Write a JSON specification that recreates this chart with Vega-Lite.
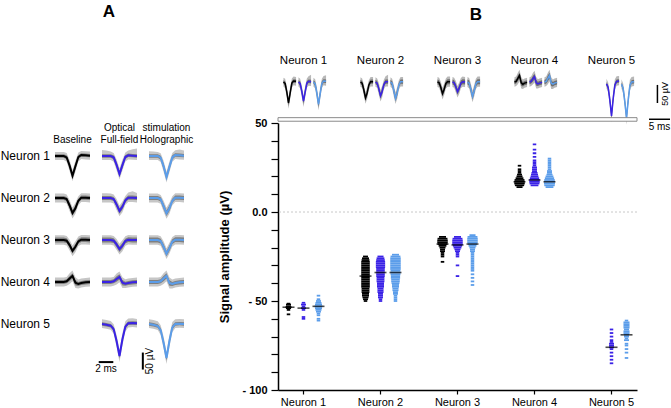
{
"$schema":"https://vega.github.io/schema/vega-lite/v6.json",
"padding":{"left":0,"top":3,"right":0,"bottom":0},
"config":{"font":"Liberation Sans","view":{"stroke":null},"title":{"fontSize":17,"fontWeight":"bold","anchor":"middle","color":"black"}},
"datasets":{
"waves":[
{"n":"Neuron 1","c":"Baseline","t":-2.4,"m":0,"lo":-12,"hi":12,"ilo":-5,"ihi":5},
{"n":"Neuron 1","c":"Baseline","t":-1.8,"m":0,"lo":-12,"hi":12,"ilo":-5,"ihi":5},
{"n":"Neuron 1","c":"Baseline","t":-1.2,"m":0,"lo":-12,"hi":12,"ilo":-5,"ihi":5},
{"n":"Neuron 1","c":"Baseline","t":-0.8,"m":-4,"lo":-17,"hi":9,"ilo":-10,"ihi":2},
{"n":"Neuron 1","c":"Baseline","t":-0.4,"m":-28,"lo":-44,"hi":-12,"ilo":-36,"ihi":-20},
{"n":"Neuron 1","c":"Baseline","t":0,"m":-58,"lo":-74,"hi":-42,"ilo":-66,"ihi":-50},
{"n":"Neuron 1","c":"Baseline","t":0.4,"m":-30,"lo":-46,"hi":-14,"ilo":-38,"ihi":-22},
{"n":"Neuron 1","c":"Baseline","t":0.8,"m":-3,"lo":-16,"hi":10,"ilo":-9,"ihi":3},
{"n":"Neuron 1","c":"Baseline","t":1.2,"m":3,"lo":-9,"hi":15,"ilo":-2,"ihi":8},
{"n":"Neuron 1","c":"Baseline","t":1.8,"m":2,"lo":-10,"hi":14,"ilo":-3,"ihi":7},
{"n":"Neuron 1","c":"Baseline","t":2.4,"m":1,"lo":-11,"hi":13,"ilo":-4,"ihi":6},
{"n":"Neuron 1","c":"Full-field","t":-2.4,"m":0,"lo":-12,"hi":18,"ilo":-5,"ihi":5},
{"n":"Neuron 1","c":"Full-field","t":-1.8,"m":0,"lo":-12,"hi":16,"ilo":-5,"ihi":5},
{"n":"Neuron 1","c":"Full-field","t":-1.2,"m":0,"lo":-12,"hi":13,"ilo":-5,"ihi":5},
{"n":"Neuron 1","c":"Full-field","t":-0.8,"m":-4,"lo":-17,"hi":9,"ilo":-10,"ihi":2},
{"n":"Neuron 1","c":"Full-field","t":-0.4,"m":-26,"lo":-42,"hi":-10,"ilo":-34,"ihi":-18},
{"n":"Neuron 1","c":"Full-field","t":0,"m":-53,"lo":-69,"hi":-37,"ilo":-61,"ihi":-45},
{"n":"Neuron 1","c":"Full-field","t":0.4,"m":-27,"lo":-43,"hi":-11,"ilo":-35,"ihi":-19},
{"n":"Neuron 1","c":"Full-field","t":0.8,"m":-3,"lo":-16,"hi":10,"ilo":-9,"ihi":3},
{"n":"Neuron 1","c":"Full-field","t":1.2,"m":2,"lo":-10,"hi":16,"ilo":-3,"ihi":7},
{"n":"Neuron 1","c":"Full-field","t":1.8,"m":1,"lo":-11,"hi":20,"ilo":-4,"ihi":6},
{"n":"Neuron 1","c":"Full-field","t":2.4,"m":0,"lo":-12,"hi":22,"ilo":-5,"ihi":5},
{"n":"Neuron 1","c":"Holographic","t":-2.4,"m":0,"lo":-12,"hi":14,"ilo":-5,"ihi":5},
{"n":"Neuron 1","c":"Holographic","t":-1.8,"m":0,"lo":-12,"hi":13,"ilo":-5,"ihi":5},
{"n":"Neuron 1","c":"Holographic","t":-1.2,"m":0,"lo":-12,"hi":12,"ilo":-5,"ihi":5},
{"n":"Neuron 1","c":"Holographic","t":-0.8,"m":-5,"lo":-18,"hi":8,"ilo":-11,"ihi":1},
{"n":"Neuron 1","c":"Holographic","t":-0.4,"m":-30,"lo":-46,"hi":-14,"ilo":-38,"ihi":-22},
{"n":"Neuron 1","c":"Holographic","t":0,"m":-62,"lo":-78,"hi":-46,"ilo":-70,"ihi":-54},
{"n":"Neuron 1","c":"Holographic","t":0.4,"m":-32,"lo":-48,"hi":-16,"ilo":-40,"ihi":-24},
{"n":"Neuron 1","c":"Holographic","t":0.8,"m":-4,"lo":-17,"hi":9,"ilo":-10,"ihi":2},
{"n":"Neuron 1","c":"Holographic","t":1.2,"m":3,"lo":-9,"hi":17,"ilo":-2,"ihi":8},
{"n":"Neuron 1","c":"Holographic","t":1.8,"m":2,"lo":-10,"hi":19,"ilo":-3,"ihi":7},
{"n":"Neuron 1","c":"Holographic","t":2.4,"m":1,"lo":-11,"hi":16,"ilo":-4,"ihi":6},
{"n":"Neuron 2","c":"Baseline","t":-2.4,"m":0,"lo":-13,"hi":13,"ilo":-6,"ihi":6},
{"n":"Neuron 2","c":"Baseline","t":-1.8,"m":0,"lo":-13,"hi":13,"ilo":-6,"ihi":6},
{"n":"Neuron 2","c":"Baseline","t":-1.2,"m":0,"lo":-13,"hi":13,"ilo":-6,"ihi":6},
{"n":"Neuron 2","c":"Baseline","t":-0.8,"m":-3,"lo":-16,"hi":10,"ilo":-9,"ihi":3},
{"n":"Neuron 2","c":"Baseline","t":-0.4,"m":-22,"lo":-38,"hi":-6,"ilo":-30,"ihi":-14},
{"n":"Neuron 2","c":"Baseline","t":0,"m":-44,"lo":-60,"hi":-28,"ilo":-52,"ihi":-36},
{"n":"Neuron 2","c":"Baseline","t":0.4,"m":-30,"lo":-46,"hi":-14,"ilo":-38,"ihi":-22},
{"n":"Neuron 2","c":"Baseline","t":0.8,"m":-8,"lo":-21,"hi":5,"ilo":-14,"ihi":-2},
{"n":"Neuron 2","c":"Baseline","t":1.2,"m":1,"lo":-12,"hi":14,"ilo":-5,"ihi":7},
{"n":"Neuron 2","c":"Baseline","t":1.8,"m":1,"lo":-12,"hi":14,"ilo":-5,"ihi":7},
{"n":"Neuron 2","c":"Baseline","t":2.4,"m":0,"lo":-13,"hi":13,"ilo":-6,"ihi":6},
{"n":"Neuron 2","c":"Full-field","t":-2.4,"m":0,"lo":-13,"hi":14,"ilo":-6,"ihi":6},
{"n":"Neuron 2","c":"Full-field","t":-1.8,"m":0,"lo":-13,"hi":14,"ilo":-6,"ihi":6},
{"n":"Neuron 2","c":"Full-field","t":-1.2,"m":0,"lo":-13,"hi":13,"ilo":-6,"ihi":6},
{"n":"Neuron 2","c":"Full-field","t":-0.8,"m":-3,"lo":-16,"hi":10,"ilo":-9,"ihi":3},
{"n":"Neuron 2","c":"Full-field","t":-0.4,"m":-19,"lo":-35,"hi":-3,"ilo":-27,"ihi":-11},
{"n":"Neuron 2","c":"Full-field","t":0,"m":-38,"lo":-54,"hi":-22,"ilo":-46,"ihi":-30},
{"n":"Neuron 2","c":"Full-field","t":0.4,"m":-26,"lo":-42,"hi":-10,"ilo":-34,"ihi":-18},
{"n":"Neuron 2","c":"Full-field","t":0.8,"m":-7,"lo":-20,"hi":6,"ilo":-13,"ihi":-1},
{"n":"Neuron 2","c":"Full-field","t":1.2,"m":1,"lo":-12,"hi":16,"ilo":-5,"ihi":7},
{"n":"Neuron 2","c":"Full-field","t":1.8,"m":1,"lo":-12,"hi":20,"ilo":-5,"ihi":7},
{"n":"Neuron 2","c":"Full-field","t":2.4,"m":0,"lo":-13,"hi":15,"ilo":-6,"ihi":6},
{"n":"Neuron 2","c":"Holographic","t":-2.4,"m":0,"lo":-13,"hi":13,"ilo":-6,"ihi":6},
{"n":"Neuron 2","c":"Holographic","t":-1.8,"m":0,"lo":-13,"hi":13,"ilo":-6,"ihi":6},
{"n":"Neuron 2","c":"Holographic","t":-1.2,"m":0,"lo":-13,"hi":13,"ilo":-6,"ihi":6},
{"n":"Neuron 2","c":"Holographic","t":-0.8,"m":-4,"lo":-17,"hi":9,"ilo":-10,"ihi":2},
{"n":"Neuron 2","c":"Holographic","t":-0.4,"m":-24,"lo":-40,"hi":-8,"ilo":-32,"ihi":-16},
{"n":"Neuron 2","c":"Holographic","t":0,"m":-45,"lo":-61,"hi":-29,"ilo":-53,"ihi":-37},
{"n":"Neuron 2","c":"Holographic","t":0.4,"m":-30,"lo":-46,"hi":-14,"ilo":-38,"ihi":-22},
{"n":"Neuron 2","c":"Holographic","t":0.8,"m":-8,"lo":-21,"hi":5,"ilo":-14,"ihi":-2},
{"n":"Neuron 2","c":"Holographic","t":1.2,"m":1,"lo":-12,"hi":14,"ilo":-5,"ihi":7},
{"n":"Neuron 2","c":"Holographic","t":1.8,"m":1,"lo":-12,"hi":14,"ilo":-5,"ihi":7},
{"n":"Neuron 2","c":"Holographic","t":2.4,"m":0,"lo":-13,"hi":13,"ilo":-6,"ihi":6},
{"n":"Neuron 3","c":"Baseline","t":-2.4,"m":0,"lo":-14,"hi":14,"ilo":-7,"ihi":7},
{"n":"Neuron 3","c":"Baseline","t":-1.8,"m":0,"lo":-14,"hi":14,"ilo":-7,"ihi":7},
{"n":"Neuron 3","c":"Baseline","t":-1.2,"m":0,"lo":-14,"hi":14,"ilo":-7,"ihi":7},
{"n":"Neuron 3","c":"Baseline","t":-0.8,"m":-2,"lo":-16,"hi":12,"ilo":-9,"ihi":5},
{"n":"Neuron 3","c":"Baseline","t":-0.4,"m":-15,"lo":-31,"hi":1,"ilo":-23,"ihi":-7},
{"n":"Neuron 3","c":"Baseline","t":0,"m":-32,"lo":-48,"hi":-16,"ilo":-40,"ihi":-24},
{"n":"Neuron 3","c":"Baseline","t":0.4,"m":-20,"lo":-36,"hi":-4,"ilo":-28,"ihi":-12},
{"n":"Neuron 3","c":"Baseline","t":0.8,"m":-4,"lo":-18,"hi":10,"ilo":-11,"ihi":3},
{"n":"Neuron 3","c":"Baseline","t":1.2,"m":1,"lo":-13,"hi":15,"ilo":-6,"ihi":8},
{"n":"Neuron 3","c":"Baseline","t":1.8,"m":1,"lo":-13,"hi":15,"ilo":-6,"ihi":8},
{"n":"Neuron 3","c":"Baseline","t":2.4,"m":0,"lo":-14,"hi":14,"ilo":-7,"ihi":7},
{"n":"Neuron 3","c":"Full-field","t":-2.4,"m":0,"lo":-14,"hi":14,"ilo":-7,"ihi":7},
{"n":"Neuron 3","c":"Full-field","t":-1.8,"m":0,"lo":-14,"hi":14,"ilo":-7,"ihi":7},
{"n":"Neuron 3","c":"Full-field","t":-1.2,"m":0,"lo":-14,"hi":14,"ilo":-7,"ihi":7},
{"n":"Neuron 3","c":"Full-field","t":-0.8,"m":-2,"lo":-16,"hi":12,"ilo":-9,"ihi":5},
{"n":"Neuron 3","c":"Full-field","t":-0.4,"m":-13,"lo":-29,"hi":3,"ilo":-21,"ihi":-5},
{"n":"Neuron 3","c":"Full-field","t":0,"m":-27,"lo":-43,"hi":-11,"ilo":-35,"ihi":-19},
{"n":"Neuron 3","c":"Full-field","t":0.4,"m":-17,"lo":-33,"hi":-1,"ilo":-25,"ihi":-9},
{"n":"Neuron 3","c":"Full-field","t":0.8,"m":-3,"lo":-17,"hi":11,"ilo":-10,"ihi":4},
{"n":"Neuron 3","c":"Full-field","t":1.2,"m":1,"lo":-13,"hi":15,"ilo":-6,"ihi":8},
{"n":"Neuron 3","c":"Full-field","t":1.8,"m":0,"lo":-14,"hi":14,"ilo":-7,"ihi":7},
{"n":"Neuron 3","c":"Full-field","t":2.4,"m":0,"lo":-14,"hi":14,"ilo":-7,"ihi":7},
{"n":"Neuron 3","c":"Holographic","t":-2.4,"m":0,"lo":-14,"hi":14,"ilo":-7,"ihi":7},
{"n":"Neuron 3","c":"Holographic","t":-1.8,"m":0,"lo":-14,"hi":14,"ilo":-7,"ihi":7},
{"n":"Neuron 3","c":"Holographic","t":-1.2,"m":0,"lo":-14,"hi":14,"ilo":-7,"ihi":7},
{"n":"Neuron 3","c":"Holographic","t":-0.8,"m":-3,"lo":-17,"hi":11,"ilo":-10,"ihi":4},
{"n":"Neuron 3","c":"Holographic","t":-0.4,"m":-20,"lo":-36,"hi":-4,"ilo":-28,"ihi":-12},
{"n":"Neuron 3","c":"Holographic","t":0,"m":-40,"lo":-56,"hi":-24,"ilo":-48,"ihi":-32},
{"n":"Neuron 3","c":"Holographic","t":0.4,"m":-24,"lo":-40,"hi":-8,"ilo":-32,"ihi":-16},
{"n":"Neuron 3","c":"Holographic","t":0.8,"m":-5,"lo":-19,"hi":9,"ilo":-12,"ihi":2},
{"n":"Neuron 3","c":"Holographic","t":1.2,"m":1,"lo":-13,"hi":15,"ilo":-6,"ihi":8},
{"n":"Neuron 3","c":"Holographic","t":1.8,"m":1,"lo":-13,"hi":15,"ilo":-6,"ihi":8},
{"n":"Neuron 3","c":"Holographic","t":2.4,"m":0,"lo":-14,"hi":14,"ilo":-7,"ihi":7},
{"n":"Neuron 4","c":"Baseline","t":-2.4,"m":0,"lo":-13,"hi":13,"ilo":-6,"ihi":6},
{"n":"Neuron 4","c":"Baseline","t":-1.8,"m":0,"lo":-13,"hi":13,"ilo":-6,"ihi":6},
{"n":"Neuron 4","c":"Baseline","t":-1.2,"m":0,"lo":-13,"hi":13,"ilo":-6,"ihi":6},
{"n":"Neuron 4","c":"Baseline","t":-0.8,"m":2,"lo":-11,"hi":15,"ilo":-4,"ihi":8},
{"n":"Neuron 4","c":"Baseline","t":-0.4,"m":10,"lo":-6,"hi":26,"ilo":2,"ihi":18},
{"n":"Neuron 4","c":"Baseline","t":0,"m":18,"lo":2,"hi":34,"ilo":10,"ihi":26},
{"n":"Neuron 4","c":"Baseline","t":0.4,"m":-2,"lo":-18,"hi":14,"ilo":-10,"ihi":6},
{"n":"Neuron 4","c":"Baseline","t":0.8,"m":-6,"lo":-19,"hi":7,"ilo":-12,"ihi":0},
{"n":"Neuron 4","c":"Baseline","t":1.2,"m":-3,"lo":-16,"hi":10,"ilo":-9,"ihi":3},
{"n":"Neuron 4","c":"Baseline","t":1.8,"m":-1,"lo":-14,"hi":12,"ilo":-7,"ihi":5},
{"n":"Neuron 4","c":"Baseline","t":2.4,"m":0,"lo":-13,"hi":13,"ilo":-6,"ihi":6},
{"n":"Neuron 4","c":"Full-field","t":-2.4,"m":0,"lo":-13,"hi":13,"ilo":-6,"ihi":6},
{"n":"Neuron 4","c":"Full-field","t":-1.8,"m":0,"lo":-13,"hi":13,"ilo":-6,"ihi":6},
{"n":"Neuron 4","c":"Full-field","t":-1.2,"m":0,"lo":-13,"hi":13,"ilo":-6,"ihi":6},
{"n":"Neuron 4","c":"Full-field","t":-0.8,"m":2,"lo":-11,"hi":15,"ilo":-4,"ihi":8},
{"n":"Neuron 4","c":"Full-field","t":-0.4,"m":9,"lo":-7,"hi":25,"ilo":1,"ihi":17},
{"n":"Neuron 4","c":"Full-field","t":0,"m":15,"lo":-1,"hi":31,"ilo":7,"ihi":23},
{"n":"Neuron 4","c":"Full-field","t":0.4,"m":-2,"lo":-18,"hi":14,"ilo":-10,"ihi":6},
{"n":"Neuron 4","c":"Full-field","t":0.8,"m":-5,"lo":-18,"hi":8,"ilo":-11,"ihi":1},
{"n":"Neuron 4","c":"Full-field","t":1.2,"m":-3,"lo":-16,"hi":10,"ilo":-9,"ihi":3},
{"n":"Neuron 4","c":"Full-field","t":1.8,"m":-1,"lo":-14,"hi":12,"ilo":-7,"ihi":5},
{"n":"Neuron 4","c":"Full-field","t":2.4,"m":0,"lo":-13,"hi":13,"ilo":-6,"ihi":6},
{"n":"Neuron 4","c":"Holographic","t":-2.4,"m":0,"lo":-13,"hi":13,"ilo":-6,"ihi":6},
{"n":"Neuron 4","c":"Holographic","t":-1.8,"m":0,"lo":-13,"hi":13,"ilo":-6,"ihi":6},
{"n":"Neuron 4","c":"Holographic","t":-1.2,"m":0,"lo":-13,"hi":13,"ilo":-6,"ihi":6},
{"n":"Neuron 4","c":"Holographic","t":-0.8,"m":2,"lo":-11,"hi":15,"ilo":-4,"ihi":8},
{"n":"Neuron 4","c":"Holographic","t":-0.4,"m":10,"lo":-6,"hi":26,"ilo":2,"ihi":18},
{"n":"Neuron 4","c":"Holographic","t":0,"m":18,"lo":2,"hi":34,"ilo":10,"ihi":26},
{"n":"Neuron 4","c":"Holographic","t":0.4,"m":-3,"lo":-19,"hi":13,"ilo":-11,"ihi":5},
{"n":"Neuron 4","c":"Holographic","t":0.8,"m":-6,"lo":-19,"hi":7,"ilo":-12,"ihi":0},
{"n":"Neuron 4","c":"Holographic","t":1.2,"m":-3,"lo":-16,"hi":10,"ilo":-9,"ihi":3},
{"n":"Neuron 4","c":"Holographic","t":1.8,"m":-1,"lo":-14,"hi":12,"ilo":-7,"ihi":5},
{"n":"Neuron 4","c":"Holographic","t":2.4,"m":0,"lo":-13,"hi":13,"ilo":-6,"ihi":6},
{"n":"Neuron 5","c":"Full-field","t":-2.4,"m":0,"lo":-12,"hi":14,"ilo":-5,"ihi":5},
{"n":"Neuron 5","c":"Full-field","t":-1.8,"m":-2,"lo":-14,"hi":12,"ilo":-7,"ihi":3},
{"n":"Neuron 5","c":"Full-field","t":-1.2,"m":-5,"lo":-17,"hi":9,"ilo":-10,"ihi":0},
{"n":"Neuron 5","c":"Full-field","t":-0.8,"m":-15,"lo":-29,"hi":-1,"ilo":-21,"ihi":-9},
{"n":"Neuron 5","c":"Full-field","t":-0.4,"m":-50,"lo":-68,"hi":-32,"ilo":-58,"ihi":-42},
{"n":"Neuron 5","c":"Full-field","t":0,"m":-94,"lo":-112,"hi":-76,"ilo":-102,"ihi":-86},
{"n":"Neuron 5","c":"Full-field","t":0.4,"m":-45,"lo":-63,"hi":-27,"ilo":-53,"ihi":-37},
{"n":"Neuron 5","c":"Full-field","t":0.8,"m":-8,"lo":-22,"hi":8,"ilo":-14,"ihi":-2},
{"n":"Neuron 5","c":"Full-field","t":1.2,"m":2,"lo":-10,"hi":16,"ilo":-3,"ihi":7},
{"n":"Neuron 5","c":"Full-field","t":1.8,"m":3,"lo":-9,"hi":17,"ilo":-2,"ihi":8},
{"n":"Neuron 5","c":"Full-field","t":2.4,"m":2,"lo":-10,"hi":15,"ilo":-3,"ihi":7},
{"n":"Neuron 5","c":"Holographic","t":-2.4,"m":0,"lo":-12,"hi":14,"ilo":-5,"ihi":5},
{"n":"Neuron 5","c":"Holographic","t":-1.8,"m":-2,"lo":-14,"hi":12,"ilo":-7,"ihi":3},
{"n":"Neuron 5","c":"Holographic","t":-1.2,"m":-6,"lo":-18,"hi":8,"ilo":-11,"ihi":-1},
{"n":"Neuron 5","c":"Holographic","t":-0.8,"m":-18,"lo":-32,"hi":-4,"ilo":-24,"ihi":-12},
{"n":"Neuron 5","c":"Holographic","t":-0.4,"m":-55,"lo":-73,"hi":-37,"ilo":-63,"ihi":-47},
{"n":"Neuron 5","c":"Holographic","t":0,"m":-100,"lo":-118,"hi":-82,"ilo":-108,"ihi":-92},
{"n":"Neuron 5","c":"Holographic","t":0.4,"m":-50,"lo":-68,"hi":-32,"ilo":-58,"ihi":-42},
{"n":"Neuron 5","c":"Holographic","t":0.8,"m":-10,"lo":-24,"hi":6,"ilo":-16,"ihi":-4},
{"n":"Neuron 5","c":"Holographic","t":1.2,"m":0,"lo":-12,"hi":14,"ilo":-5,"ihi":5},
{"n":"Neuron 5","c":"Holographic","t":1.8,"m":1,"lo":-11,"hi":15,"ilo":-4,"ihi":6},
{"n":"Neuron 5","c":"Holographic","t":2.4,"m":0,"lo":-12,"hi":14,"ilo":-5,"ihi":5},
{"n":"Neuron 5","c":"Full-field","bar":"h","t":-2.85,"v":-112},
{"n":"Neuron 5","c":"Full-field","bar":"h","t":-0.85,"v":-112},
{"n":"Neuron 5","c":"Full-field","bar":"v","t":3.2,"v":-84},
{"n":"Neuron 5","c":"Full-field","bar":"v","t":3.2,"v":-134},
{"n":"Neuron 5","c":"Full-field","txt":"2 ms","t":-1.85,"v":-117},
{"n":"Neuron 5","c":"Full-field","txt":"50 µV","t":4.2,"v":-109}
],
"swarm":[
{"n":"Neuron 1","c":"Baseline","a":-51.5,"k":1},{"n":"Neuron 1","c":"Baseline","a":-52,"k":2},{"n":"Neuron 1","c":"Baseline","a":-53,"k":2},{"n":"Neuron 1","c":"Baseline","a":-53.5,"k":3},{"n":"Neuron 1","c":"Baseline","a":-54,"k":2},{"n":"Neuron 1","c":"Baseline","a":-55,"k":1},{"n":"Neuron 1","c":"Baseline","a":-57.5,"k":1},
{"n":"Neuron 1","c":"Full-field","a":-51,"k":1},{"n":"Neuron 1","c":"Full-field","a":-52,"k":2},{"n":"Neuron 1","c":"Full-field","a":-53,"k":1},{"n":"Neuron 1","c":"Full-field","a":-54,"k":2},{"n":"Neuron 1","c":"Full-field","a":-55,"k":1},{"n":"Neuron 1","c":"Full-field","a":-59,"k":1},{"n":"Neuron 1","c":"Full-field","a":-60,"k":1},
{"n":"Neuron 1","c":"Holographic","a":-47,"k":1},{"n":"Neuron 1","c":"Holographic","a":-49,"k":1},{"n":"Neuron 1","c":"Holographic","a":-50,"k":2},{"n":"Neuron 1","c":"Holographic","a":-51,"k":3},{"n":"Neuron 1","c":"Holographic","a":-52,"k":4},{"n":"Neuron 1","c":"Holographic","a":-53,"k":5},{"n":"Neuron 1","c":"Holographic","a":-54,"k":4},{"n":"Neuron 1","c":"Holographic","a":-55,"k":3},{"n":"Neuron 1","c":"Holographic","a":-56,"k":2},{"n":"Neuron 1","c":"Holographic","a":-57,"k":1},{"n":"Neuron 1","c":"Holographic","a":-58,"k":1},{"n":"Neuron 1","c":"Holographic","a":-60,"k":1},{"n":"Neuron 1","c":"Holographic","a":-61,"k":1},
{"n":"Neuron 2","c":"Baseline","a":-25,"k":2},{"n":"Neuron 2","c":"Baseline","a":-26,"k":4},{"n":"Neuron 2","c":"Baseline","a":-27,"k":5},{"n":"Neuron 2","c":"Baseline","a":-28,"k":6},{"n":"Neuron 2","c":"Baseline","a":-29,"k":6},{"n":"Neuron 2","c":"Baseline","a":-30,"k":6},{"n":"Neuron 2","c":"Baseline","a":-31,"k":6},{"n":"Neuron 2","c":"Baseline","a":-32,"k":6},{"n":"Neuron 2","c":"Baseline","a":-33,"k":6},{"n":"Neuron 2","c":"Baseline","a":-34,"k":6},{"n":"Neuron 2","c":"Baseline","a":-35,"k":6},{"n":"Neuron 2","c":"Baseline","a":-36,"k":6},{"n":"Neuron 2","c":"Baseline","a":-37,"k":6},{"n":"Neuron 2","c":"Baseline","a":-38,"k":6},{"n":"Neuron 2","c":"Baseline","a":-39,"k":6},{"n":"Neuron 2","c":"Baseline","a":-40,"k":6},{"n":"Neuron 2","c":"Baseline","a":-41,"k":6},{"n":"Neuron 2","c":"Baseline","a":-42,"k":6},{"n":"Neuron 2","c":"Baseline","a":-43,"k":5},{"n":"Neuron 2","c":"Baseline","a":-44,"k":5},{"n":"Neuron 2","c":"Baseline","a":-45,"k":5},{"n":"Neuron 2","c":"Baseline","a":-46,"k":4},{"n":"Neuron 2","c":"Baseline","a":-47,"k":4},{"n":"Neuron 2","c":"Baseline","a":-48,"k":3},{"n":"Neuron 2","c":"Baseline","a":-49,"k":2},{"n":"Neuron 2","c":"Baseline","a":-50,"k":1},
{"n":"Neuron 2","c":"Full-field","a":-25,"k":3},{"n":"Neuron 2","c":"Full-field","a":-26,"k":5},{"n":"Neuron 2","c":"Full-field","a":-27,"k":6},{"n":"Neuron 2","c":"Full-field","a":-28,"k":7},{"n":"Neuron 2","c":"Full-field","a":-29,"k":7},{"n":"Neuron 2","c":"Full-field","a":-30,"k":7},{"n":"Neuron 2","c":"Full-field","a":-31,"k":7},{"n":"Neuron 2","c":"Full-field","a":-32,"k":6},{"n":"Neuron 2","c":"Full-field","a":-33,"k":6},{"n":"Neuron 2","c":"Full-field","a":-34,"k":6},{"n":"Neuron 2","c":"Full-field","a":-35,"k":6},{"n":"Neuron 2","c":"Full-field","a":-36,"k":6},{"n":"Neuron 2","c":"Full-field","a":-37,"k":5},{"n":"Neuron 2","c":"Full-field","a":-38,"k":5},{"n":"Neuron 2","c":"Full-field","a":-39,"k":5},{"n":"Neuron 2","c":"Full-field","a":-40,"k":4},{"n":"Neuron 2","c":"Full-field","a":-41,"k":4},{"n":"Neuron 2","c":"Full-field","a":-42,"k":4},{"n":"Neuron 2","c":"Full-field","a":-43,"k":3},{"n":"Neuron 2","c":"Full-field","a":-44,"k":3},{"n":"Neuron 2","c":"Full-field","a":-45,"k":3},{"n":"Neuron 2","c":"Full-field","a":-46,"k":2},{"n":"Neuron 2","c":"Full-field","a":-47,"k":2},{"n":"Neuron 2","c":"Full-field","a":-48,"k":2},{"n":"Neuron 2","c":"Full-field","a":-49,"k":1},{"n":"Neuron 2","c":"Full-field","a":-50,"k":1},
{"n":"Neuron 2","c":"Holographic","a":-24,"k":4},{"n":"Neuron 2","c":"Holographic","a":-25,"k":8},{"n":"Neuron 2","c":"Holographic","a":-26,"k":9},{"n":"Neuron 2","c":"Holographic","a":-27,"k":9},{"n":"Neuron 2","c":"Holographic","a":-28,"k":9},{"n":"Neuron 2","c":"Holographic","a":-29,"k":9},{"n":"Neuron 2","c":"Holographic","a":-30,"k":9},{"n":"Neuron 2","c":"Holographic","a":-31,"k":9},{"n":"Neuron 2","c":"Holographic","a":-32,"k":9},{"n":"Neuron 2","c":"Holographic","a":-33,"k":8},{"n":"Neuron 2","c":"Holographic","a":-34,"k":8},{"n":"Neuron 2","c":"Holographic","a":-35,"k":8},{"n":"Neuron 2","c":"Holographic","a":-36,"k":7},{"n":"Neuron 2","c":"Holographic","a":-37,"k":7},{"n":"Neuron 2","c":"Holographic","a":-38,"k":6},{"n":"Neuron 2","c":"Holographic","a":-39,"k":6},{"n":"Neuron 2","c":"Holographic","a":-40,"k":5},{"n":"Neuron 2","c":"Holographic","a":-41,"k":4},{"n":"Neuron 2","c":"Holographic","a":-42,"k":4},{"n":"Neuron 2","c":"Holographic","a":-43,"k":3},{"n":"Neuron 2","c":"Holographic","a":-44,"k":3},{"n":"Neuron 2","c":"Holographic","a":-45,"k":2},{"n":"Neuron 2","c":"Holographic","a":-46,"k":2},{"n":"Neuron 2","c":"Holographic","a":-47,"k":1},{"n":"Neuron 2","c":"Holographic","a":-48,"k":1},{"n":"Neuron 2","c":"Holographic","a":-49,"k":1},{"n":"Neuron 2","c":"Holographic","a":-50,"k":1},
{"n":"Neuron 3","c":"Baseline","a":-14,"k":4},{"n":"Neuron 3","c":"Baseline","a":-15,"k":8},{"n":"Neuron 3","c":"Baseline","a":-16,"k":9},{"n":"Neuron 3","c":"Baseline","a":-17,"k":9},{"n":"Neuron 3","c":"Baseline","a":-18,"k":8},{"n":"Neuron 3","c":"Baseline","a":-19,"k":5},{"n":"Neuron 3","c":"Baseline","a":-20,"k":3},{"n":"Neuron 3","c":"Baseline","a":-21,"k":2},{"n":"Neuron 3","c":"Baseline","a":-22,"k":2},{"n":"Neuron 3","c":"Baseline","a":-23,"k":1},{"n":"Neuron 3","c":"Baseline","a":-24,"k":1},{"n":"Neuron 3","c":"Baseline","a":-25,"k":1},{"n":"Neuron 3","c":"Baseline","a":-28,"k":1},
{"n":"Neuron 3","c":"Full-field","a":-14,"k":4},{"n":"Neuron 3","c":"Full-field","a":-15,"k":8},{"n":"Neuron 3","c":"Full-field","a":-16,"k":9},{"n":"Neuron 3","c":"Full-field","a":-17,"k":9},{"n":"Neuron 3","c":"Full-field","a":-18,"k":9},{"n":"Neuron 3","c":"Full-field","a":-19,"k":7},{"n":"Neuron 3","c":"Full-field","a":-20,"k":5},{"n":"Neuron 3","c":"Full-field","a":-21,"k":3},{"n":"Neuron 3","c":"Full-field","a":-22,"k":2},{"n":"Neuron 3","c":"Full-field","a":-23,"k":1},{"n":"Neuron 3","c":"Full-field","a":-24,"k":1},{"n":"Neuron 3","c":"Full-field","a":-25,"k":1},{"n":"Neuron 3","c":"Full-field","a":-30,"k":1},{"n":"Neuron 3","c":"Full-field","a":-36,"k":1},
{"n":"Neuron 3","c":"Holographic","a":-13,"k":3},{"n":"Neuron 3","c":"Holographic","a":-14,"k":8},{"n":"Neuron 3","c":"Holographic","a":-15,"k":9},{"n":"Neuron 3","c":"Holographic","a":-16,"k":9},{"n":"Neuron 3","c":"Holographic","a":-17,"k":9},{"n":"Neuron 3","c":"Holographic","a":-18,"k":7},{"n":"Neuron 3","c":"Holographic","a":-19,"k":5},{"n":"Neuron 3","c":"Holographic","a":-20,"k":3},{"n":"Neuron 3","c":"Holographic","a":-21,"k":2},{"n":"Neuron 3","c":"Holographic","a":-22,"k":2},{"n":"Neuron 3","c":"Holographic","a":-23,"k":1},{"n":"Neuron 3","c":"Holographic","a":-24,"k":1},{"n":"Neuron 3","c":"Holographic","a":-25,"k":1},{"n":"Neuron 3","c":"Holographic","a":-26,"k":1},{"n":"Neuron 3","c":"Holographic","a":-27,"k":1},{"n":"Neuron 3","c":"Holographic","a":-28,"k":1},{"n":"Neuron 3","c":"Holographic","a":-29,"k":1},{"n":"Neuron 3","c":"Holographic","a":-30,"k":1},{"n":"Neuron 3","c":"Holographic","a":-31,"k":1},{"n":"Neuron 3","c":"Holographic","a":-32,"k":1},{"n":"Neuron 3","c":"Holographic","a":-33,"k":1},{"n":"Neuron 3","c":"Holographic","a":-35,"k":1},{"n":"Neuron 3","c":"Holographic","a":-37,"k":1},{"n":"Neuron 3","c":"Holographic","a":-39,"k":1},{"n":"Neuron 3","c":"Holographic","a":-41,"k":1},
{"n":"Neuron 4","c":"Baseline","a":14,"k":3},{"n":"Neuron 4","c":"Baseline","a":15,"k":7},{"n":"Neuron 4","c":"Baseline","a":16,"k":9},{"n":"Neuron 4","c":"Baseline","a":17,"k":9},{"n":"Neuron 4","c":"Baseline","a":18,"k":8},{"n":"Neuron 4","c":"Baseline","a":19,"k":5},{"n":"Neuron 4","c":"Baseline","a":20,"k":3},{"n":"Neuron 4","c":"Baseline","a":21,"k":2},{"n":"Neuron 4","c":"Baseline","a":22,"k":1},{"n":"Neuron 4","c":"Baseline","a":23,"k":1},{"n":"Neuron 4","c":"Baseline","a":24,"k":1},{"n":"Neuron 4","c":"Baseline","a":26,"k":1},
{"n":"Neuron 4","c":"Full-field","a":15,"k":5},{"n":"Neuron 4","c":"Full-field","a":16,"k":8},{"n":"Neuron 4","c":"Full-field","a":17,"k":9},{"n":"Neuron 4","c":"Full-field","a":18,"k":9},{"n":"Neuron 4","c":"Full-field","a":19,"k":7},{"n":"Neuron 4","c":"Full-field","a":20,"k":5},{"n":"Neuron 4","c":"Full-field","a":21,"k":4},{"n":"Neuron 4","c":"Full-field","a":22,"k":3},{"n":"Neuron 4","c":"Full-field","a":23,"k":2},{"n":"Neuron 4","c":"Full-field","a":24,"k":2},{"n":"Neuron 4","c":"Full-field","a":25,"k":2},{"n":"Neuron 4","c":"Full-field","a":26,"k":1},{"n":"Neuron 4","c":"Full-field","a":27,"k":1},{"n":"Neuron 4","c":"Full-field","a":28,"k":1},{"n":"Neuron 4","c":"Full-field","a":29,"k":1},{"n":"Neuron 4","c":"Full-field","a":31,"k":1},{"n":"Neuron 4","c":"Full-field","a":33,"k":1},{"n":"Neuron 4","c":"Full-field","a":35,"k":1},{"n":"Neuron 4","c":"Full-field","a":38,"k":1},
{"n":"Neuron 4","c":"Holographic","a":14,"k":5},{"n":"Neuron 4","c":"Holographic","a":15,"k":9},{"n":"Neuron 4","c":"Holographic","a":16,"k":10},{"n":"Neuron 4","c":"Holographic","a":17,"k":10},{"n":"Neuron 4","c":"Holographic","a":18,"k":9},{"n":"Neuron 4","c":"Holographic","a":19,"k":7},{"n":"Neuron 4","c":"Holographic","a":20,"k":5},{"n":"Neuron 4","c":"Holographic","a":21,"k":3},{"n":"Neuron 4","c":"Holographic","a":22,"k":2},{"n":"Neuron 4","c":"Holographic","a":23,"k":2},{"n":"Neuron 4","c":"Holographic","a":24,"k":1},{"n":"Neuron 4","c":"Holographic","a":25,"k":1},{"n":"Neuron 4","c":"Holographic","a":26,"k":1},{"n":"Neuron 4","c":"Holographic","a":27,"k":1},{"n":"Neuron 4","c":"Holographic","a":28,"k":1},{"n":"Neuron 4","c":"Holographic","a":29,"k":1},{"n":"Neuron 4","c":"Holographic","a":30,"k":1},
{"n":"Neuron 5","c":"Full-field","a":-66,"k":1},{"n":"Neuron 5","c":"Full-field","a":-68,"k":1},{"n":"Neuron 5","c":"Full-field","a":-70,"k":1},{"n":"Neuron 5","c":"Full-field","a":-72,"k":1},{"n":"Neuron 5","c":"Full-field","a":-73,"k":1},{"n":"Neuron 5","c":"Full-field","a":-74,"k":2},{"n":"Neuron 5","c":"Full-field","a":-75,"k":2},{"n":"Neuron 5","c":"Full-field","a":-76,"k":2},{"n":"Neuron 5","c":"Full-field","a":-77,"k":1},{"n":"Neuron 5","c":"Full-field","a":-79,"k":1},{"n":"Neuron 5","c":"Full-field","a":-81,"k":1},{"n":"Neuron 5","c":"Full-field","a":-83,"k":1},{"n":"Neuron 5","c":"Full-field","a":-85,"k":1},
{"n":"Neuron 5","c":"Holographic","a":-61,"k":1},{"n":"Neuron 5","c":"Holographic","a":-62,"k":3},{"n":"Neuron 5","c":"Holographic","a":-63,"k":3},{"n":"Neuron 5","c":"Holographic","a":-64,"k":3},{"n":"Neuron 5","c":"Holographic","a":-65,"k":3},{"n":"Neuron 5","c":"Holographic","a":-66,"k":2},{"n":"Neuron 5","c":"Holographic","a":-67,"k":3},{"n":"Neuron 5","c":"Holographic","a":-68,"k":3},{"n":"Neuron 5","c":"Holographic","a":-69,"k":2},{"n":"Neuron 5","c":"Holographic","a":-70,"k":2},{"n":"Neuron 5","c":"Holographic","a":-71,"k":1},{"n":"Neuron 5","c":"Holographic","a":-72,"k":2},{"n":"Neuron 5","c":"Holographic","a":-74,"k":1},{"n":"Neuron 5","c":"Holographic","a":-75,"k":1},{"n":"Neuron 5","c":"Holographic","a":-77,"k":1},{"n":"Neuron 5","c":"Holographic","a":-79,"k":1},{"n":"Neuron 5","c":"Holographic","a":-82,"k":1}
],
"means":[
{"n":"Neuron 1","c":"Baseline","a":-53.5},{"n":"Neuron 1","c":"Full-field","a":-54},{"n":"Neuron 1","c":"Holographic","a":-53},
{"n":"Neuron 2","c":"Baseline","a":-36},{"n":"Neuron 2","c":"Full-field","a":-34},{"n":"Neuron 2","c":"Holographic","a":-34},
{"n":"Neuron 3","c":"Baseline","a":-18},{"n":"Neuron 3","c":"Full-field","a":-18.5},{"n":"Neuron 3","c":"Holographic","a":-18},
{"n":"Neuron 4","c":"Baseline","a":17},{"n":"Neuron 4","c":"Full-field","a":18},{"n":"Neuron 4","c":"Holographic","a":17},
{"n":"Neuron 5","c":"Full-field","a":-76},{"n":"Neuron 5","c":"Holographic","a":-69}
]
},
"align":"none",
"spacing":24,
"hconcat":[
{
"title":{"text":"A","offset":52,"frame":"bounds","dx":12},
"spacing":49,
"vconcat":[
{"width":10,"height":1,"data":{"values":[]},"mark":"point"},
{
"data":{"name":"waves"},
"bounds":"flush",
"spacing":{"row":8,"column":12},
"facet":{
"row":{"field":"n","type":"nominal","header":{"title":null,"labelAngle":0,"labelAlign":"left","labelBaseline":"middle","labelFontSize":12,"labelPadding":5,"labelOrient":"left","labelColor":"black"}},
"column":{"field":"c","type":"nominal","header":{"title":null,"labelFontSize":10,"labelColor":"black","labelBaseline":"middle","labelPadding":-11,"labelExpr":"datum.value == 'Full-field' ? ['Optical', 'Full-field'] : datum.value == 'Holographic' ? ['stimulation', 'Holographic'] : 'Baseline'"}}
},
"spec":{
"width":35,"height":34,
"layer":[
{"transform":[{"filter":"datum.m != null"}],"mark":{"type":"area","color":"#c6c6c6","orient":"vertical"},
"encoding":{"x":{"field":"t","type":"quantitative","scale":{"domain":[-2.4,2.4]},"axis":null},"y":{"field":"lo","type":"quantitative","scale":{"domain":[-50,50]},"axis":null},"y2":{"field":"hi"}}},
{"transform":[{"filter":"datum.m != null"}],"mark":{"type":"area","color":"#808080","orient":"vertical"},
"encoding":{"x":{"field":"t","type":"quantitative","scale":{"domain":[-2.4,2.4]},"axis":null},"y":{"field":"ilo","type":"quantitative","scale":{"domain":[-50,50]},"axis":null},"y2":{"field":"ihi"}}},
{"transform":[{"filter":"datum.m != null"}],"mark":{"type":"line","strokeWidth":2},
"encoding":{"x":{"field":"t","type":"quantitative","scale":{"domain":[-2.4,2.4]},"axis":null},"y":{"field":"m","type":"quantitative","scale":{"domain":[-50,50]},"axis":null},
"color":{"field":"c","type":"nominal","scale":{"domain":["Baseline","Full-field","Holographic"],"range":["#000000","#3a22e6","#5b9dea"]},"legend":null}}},
{"transform":[{"filter":"datum.bar != null"}],"mark":{"type":"line","strokeWidth":2,"color":"black"},
"encoding":{"x":{"field":"t","type":"quantitative","scale":{"domain":[-2.4,2.4]},"axis":null},"y":{"field":"v","type":"quantitative","scale":{"domain":[-50,50]},"axis":null},"detail":{"field":"bar"}}},
{"transform":[{"filter":"datum.txt == '2 ms'"}],"mark":{"type":"text","baseline":"top","fontSize":10,"color":"black"},
"encoding":{"x":{"field":"t","type":"quantitative","scale":{"domain":[-2.4,2.4]},"axis":null},"y":{"field":"v","type":"quantitative","scale":{"domain":[-50,50]},"axis":null},"text":{"field":"txt"}}},
{"transform":[{"filter":"datum.txt == '50 µV'"}],"mark":{"type":"text","angle":270,"baseline":"middle","fontSize":10,"color":"black"},
"encoding":{"x":{"field":"t","type":"quantitative","scale":{"domain":[-2.4,2.4]},"axis":null},"y":{"field":"v","type":"quantitative","scale":{"domain":[-50,50]},"axis":null},"text":{"field":"txt"}}}
]
}
}
]
},
{
"title":{"text":"B","offset":30,"frame":"bounds","dx":30},
"bounds":"flush",
"spacing":3,
"vconcat":[
{
"width":359,"height":47,
"data":{"name":"waves"},
"resolve":{"scale":{"xOffset":"independent"}},
"encoding":{"x":{"field":"n","type":"nominal","scale":{"domain":["Neuron 1","Neuron 2","Neuron 3","Neuron 4","Neuron 5"],"paddingInner":0.416,"paddingOuter":0.039},"axis":{"orient":"top","title":null,"domain":false,"ticks":false,"labelAngle":0,"labelFontSize":11.5,"labelPadding":8,"labelColor":"black"}}},
"layer":[
{"transform":[{"filter":"datum.m != null && datum.c == 'Baseline' && datum.t >= -1.2 && datum.t <= 1.8"}],
"encoding":{"xOffset":{"field":"t","type":"quantitative","scale":{"domain":[-1.2,1.8],"range":[2.46,15.06]}},"detail":{"field":"n"}},
"layer":[
{"mark":{"type":"area","color":"#b8b8b8","orient":"vertical"},"encoding":{"y":{"field":"lo","type":"quantitative","scale":{"domain":[-105,25]},"axis":null},"y2":{"field":"hi"}}},
{"mark":{"type":"area","color":"#6e6e6e","orient":"vertical"},"encoding":{"y":{"field":"ilo","type":"quantitative","scale":{"domain":[-105,25]},"axis":null},"y2":{"field":"ihi"}}},
{"mark":{"type":"line","color":"#000000","strokeWidth":1.5},"encoding":{"y":{"field":"m","type":"quantitative","scale":{"domain":[-105,25]},"axis":null},"order":{"field":"t","type":"quantitative"}}}
]},
{"transform":[{"filter":"datum.m != null && datum.c == 'Full-field' && datum.t >= -1.2 && datum.t <= 1.8"}],
"encoding":{"xOffset":{"field":"t","type":"quantitative","scale":{"domain":[-1.2,1.8],"range":[17.46,30.06]}},"detail":{"field":"n"}},
"layer":[
{"mark":{"type":"area","color":"#b8b8b8","orient":"vertical"},"encoding":{"y":{"field":"lo","type":"quantitative","scale":{"domain":[-105,25]},"axis":null},"y2":{"field":"hi"}}},
{"mark":{"type":"area","color":"#6e6e6e","orient":"vertical"},"encoding":{"y":{"field":"ilo","type":"quantitative","scale":{"domain":[-105,25]},"axis":null},"y2":{"field":"ihi"}}},
{"mark":{"type":"line","color":"#3a22e6","strokeWidth":1.5},"encoding":{"y":{"field":"m","type":"quantitative","scale":{"domain":[-105,25]},"axis":null},"order":{"field":"t","type":"quantitative"}}}
]},
{"transform":[{"filter":"datum.m != null && datum.c == 'Holographic' && datum.t >= -1.2 && datum.t <= 1.8"}],
"encoding":{"xOffset":{"field":"t","type":"quantitative","scale":{"domain":[-1.2,1.8],"range":[32.46,45.06]}},"detail":{"field":"n"}},
"layer":[
{"mark":{"type":"area","color":"#b8b8b8","orient":"vertical"},"encoding":{"y":{"field":"lo","type":"quantitative","scale":{"domain":[-105,25]},"axis":null},"y2":{"field":"hi"}}},
{"mark":{"type":"area","color":"#6e6e6e","orient":"vertical"},"encoding":{"y":{"field":"ilo","type":"quantitative","scale":{"domain":[-105,25]},"axis":null},"y2":{"field":"ihi"}}},
{"mark":{"type":"line","color":"#5b9dea","strokeWidth":1.5},"encoding":{"y":{"field":"m","type":"quantitative","scale":{"domain":[-105,25]},"axis":null},"order":{"field":"t","type":"quantitative"}}}
]},
{
"encoding":{"xOffset":{"field":"s","type":"quantitative","scale":{"domain":[0,5],"range":[60,81]}}},
"layer":[
{"data":{"values":[{"n":"Neuron 5","bar":"h","s":0,"v":-103},{"n":"Neuron 5","bar":"h","s":5,"v":-103},{"n":"Neuron 5","bar":"v","s":2,"v":-8},{"n":"Neuron 5","bar":"v","s":2,"v":-58}]},
"mark":{"type":"line","color":"black","strokeWidth":1.5},
"encoding":{"y":{"field":"v","type":"quantitative","scale":{"domain":[-105,25]},"axis":null},"detail":{"field":"bar"},"order":{"field":"v","type":"quantitative"}}},
{"data":{"values":[{"n":"Neuron 5","txt":"5 ms","s":2.5,"v":-110}]},
"mark":{"type":"text","baseline":"top","fontSize":10,"color":"black"},
"encoding":{"y":{"field":"v","type":"quantitative","scale":{"domain":[-105,25]},"axis":null},"text":{"field":"txt"}}},
{"data":{"values":[{"n":"Neuron 5","txt":"50 µV","s":3.9,"v":-33}]},
"mark":{"type":"text","angle":270,"baseline":"middle","fontSize":9,"color":"black"},
"encoding":{"y":{"field":"v","type":"quantitative","scale":{"domain":[-105,25]},"axis":null},"text":{"field":"txt"}}}
]}
]
},
{
"width":359,"height":267,
"encoding":{
"x":{"field":"n","type":"nominal","scale":{"domain":["Neuron 1","Neuron 2","Neuron 3","Neuron 4","Neuron 5"],"paddingInner":0.416,"paddingOuter":0.039},"axis":{"title":null,"labelAngle":0,"labelFontSize":11,"labelColor":"black","domainColor":"black","domainWidth":1.5,"tickColor":"black","tickWidth":1.2,"tickSize":4,"labelPadding":2}},
"y":{"field":"a","type":"quantitative","scale":{"domain":[-100,50],"nice":false},
"axis":{"values":[-100,-90,-80,-70,-60,-50,-40,-30,-20,-10,0,10,20,30,40,50],"labelExpr":"datum.value % 50 === 0 ? (datum.value === 0 ? '0.0' : datum.value < 0 ? '- ' + (-datum.value) : '' + datum.value) : ''","labelOverlap":false,"labelFlush":false,"title":"Signal amplitude (µV)","titleFontSize":13,"titleFontWeight":"bold","titleColor":"black","titlePadding":10,"labelFontWeight":"bold","labelFontSize":11,"labelColor":"black","domainColor":"black","domainWidth":1.5,"tickColor":"black","tickWidth":1.2,"tickSize":7,"labelPadding":4,"grid":false,
"encode":{"ticks":{"update":{"x2":{"signal":"datum.value % 50 === 0 ? -7 : -4"}}}}}}
},
"layer":[
{"data":{"values":[{"a":0}]},"mark":{"type":"rule","color":"#c8c8c8","strokeDash":[2,2],"strokeWidth":1},
"encoding":{"x":null}},
{"data":{"values":[{"a":51,"a2":53}]},"mark":{"type":"rect","fill":"white","stroke":"#8a8a8a","strokeWidth":1},
"encoding":{"x":null,"y2":{"field":"a2"}}},
{"data":{"name":"swarm"},"mark":{"type":"tick","orient":"horizontal","thickness":1.8,"opacity":1},
"encoding":{
"xOffset":{"field":"c","type":"nominal","scale":{"domain":["Baseline","Full-field","Holographic"],"paddingInner":0,"paddingOuter":0}},
"size":{"field":"k","type":"quantitative","scale":{"type":"sqrt","domain":[0,9],"range":[0,10.5]},"legend":null},
"color":{"field":"c","type":"nominal","scale":{"domain":["Baseline","Full-field","Holographic"],"range":["#636363","#4330e8","#5c9eea"]},"legend":null}}},
{"data":{"name":"means"},"mark":{"type":"tick","orient":"horizontal","thickness":1.6,"color":"black","size":12},
"encoding":{
"xOffset":{"field":"c","type":"nominal","scale":{"domain":["Baseline","Full-field","Holographic"],"paddingInner":0,"paddingOuter":0}}}}
]
}
]
}
]
}
